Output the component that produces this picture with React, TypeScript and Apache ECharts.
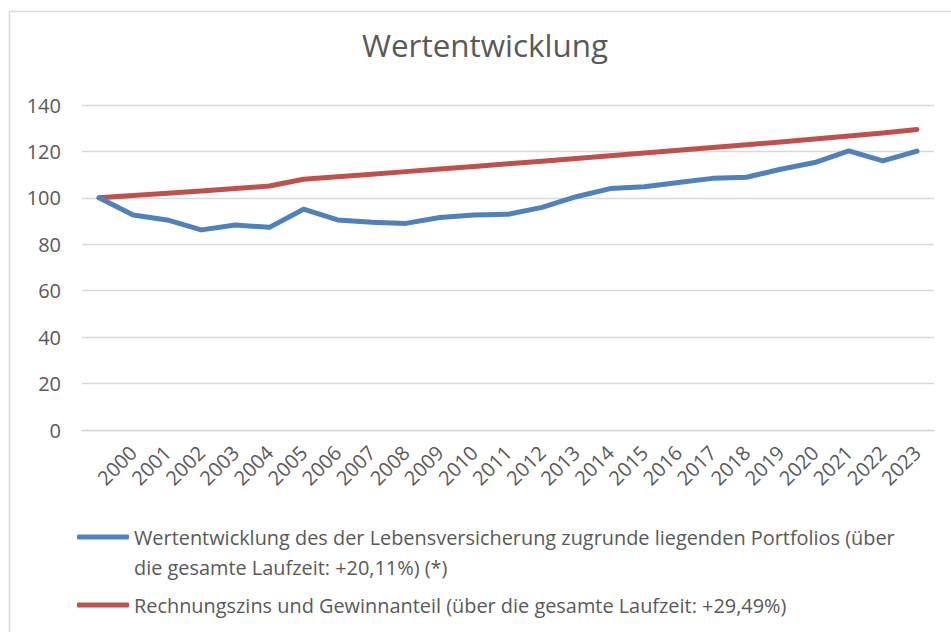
import React, { useEffect, useRef } from "react";
import * as echarts from "echarts";

const categories = ["", "2000", "2001", "2002", "2003", "2004", "2005", "2006", "2007", "2008", "2009", "2010", "2011", "2012", "2013", "2014", "2015", "2016", "2017", "2018", "2019", "2020", "2021", "2022", "2023"];

const portfolioValues = [100, 92.6, 90.5, 86.2, 88.3, 87.3, 95.1, 90.5, 89.5, 89.0, 91.5, 92.6, 92.9, 95.9, 100.5, 104.0, 104.8, 106.6, 108.4, 108.9, 112.3, 115.2, 120.2, 115.9, 120.11];

const zinsValues = [100, 101.0, 102.0, 103.0, 104.0, 105.1, 108.0, 109.1, 110.2, 111.3, 112.4, 113.5, 114.7, 115.8, 117.0, 118.1, 119.3, 120.5, 121.7, 122.9, 124.1, 125.4, 126.6, 127.9, 129.49];

const yTicks = { min: 0, max: 140, interval: 20 };

const titleText = "Wertentwicklung";
const seriesName1 = "Wertentwicklung des der Lebensversicherung zugrunde liegenden Portfolios (über die gesamte Laufzeit: +20,11%) (*)";
const seriesName2 = "Rechnungszins und Gewinnanteil (über die gesamte Laufzeit: +29,49%)";
const legendLine1 = "Wertentwicklung des der Lebensversicherung zugrunde liegenden Portfolios (über";
const legendLine2 = "die gesamte Laufzeit: +20,11%) (*)";

const FONT = "'Open Sans', Lato, sans-serif";
const TEXT = "#595959";

export default function App() {
  const ref = useRef<HTMLDivElement>(null);
  useEffect(() => {
    if (!ref.current) return;
    const chart = echarts.init(ref.current, undefined, { renderer: "svg" });
    chart.setOption({
      animation: false,
      backgroundColor: "#ffffff",
      textStyle: { fontFamily: FONT, color: TEXT },
      title: {
        text: titleText,
        left: 362,
        top: 29,
        padding: 0,
        textStyle: { fontFamily: FONT, fontSize: 31.4, fontWeight: "normal", color: TEXT },
      },
      graphic: [
        {
          type: "rect",
          shape: { x: 9.5, y: 11.5, width: 1000, height: 700 },
          style: { fill: "none", stroke: "#D9D9D9", lineWidth: 1.5 },
          silent: true,
          z: -1,
        },
      ],
      grid: { left: 82, right: 17, top: 105, bottom: 202, containLabel: false },
      xAxis: {
        type: "category",
        data: categories,
        boundaryGap: true,
        axisLine: { show: true, lineStyle: { color: "#D9D9D9", width: 1.3 } },
        axisTick: { show: false },
        axisLabel: {
          interval: 0,
          rotate: 45,
          margin: 19,
          fontFamily: FONT,
          fontSize: 20,
          color: TEXT,
        },
      },
      yAxis: {
        type: "value",
        min: yTicks.min,
        max: yTicks.max,
        interval: yTicks.interval,
        axisLine: { show: false },
        axisTick: { show: false },
        axisLabel: { margin: 21, fontFamily: FONT, fontSize: 20, color: TEXT },
        splitLine: { lineStyle: { color: "#D9D9D9", width: 1.3 } },
      },
      legend: [
        {
          data: [seriesName1],
          orient: "vertical",
          left: 77,
          top: 492,
          padding: 0,
          itemWidth: 52,
          itemHeight: 5,
          icon: "roundRect",
          formatter: () => "\n" + legendLine1 + "\n" + legendLine2,
          textStyle: { fontFamily: FONT, fontSize: 19.9, color: TEXT, lineHeight: 30 },
        },
        {
          data: [seriesName2],
          orient: "vertical",
          left: 77,
          top: 590,
          padding: 0,
          itemWidth: 52,
          itemHeight: 5,
          icon: "roundRect",
          textStyle: { fontFamily: FONT, fontSize: 19.9, color: TEXT, lineHeight: 30 },
        },
      ],
      series: [
        {
          name: seriesName1,
          type: "line",
          data: portfolioValues,
          symbol: "none",
          color: "#4F81BD",
          lineStyle: { width: 5, color: "#4F81BD", cap: "round", join: "round" },
          z: 3,
        },
        {
          name: seriesName2,
          type: "line",
          data: zinsValues,
          symbol: "none",
          color: "#C0504D",
          lineStyle: { width: 5, color: "#C0504D", cap: "round", join: "round" },
          z: 2,
        },
      ],
    });
    return () => chart.dispose();
  }, []);
  return <div ref={ref} style={{ position: "fixed", left: 0, top: 0, width: 951, height: 632 }} />;
}
